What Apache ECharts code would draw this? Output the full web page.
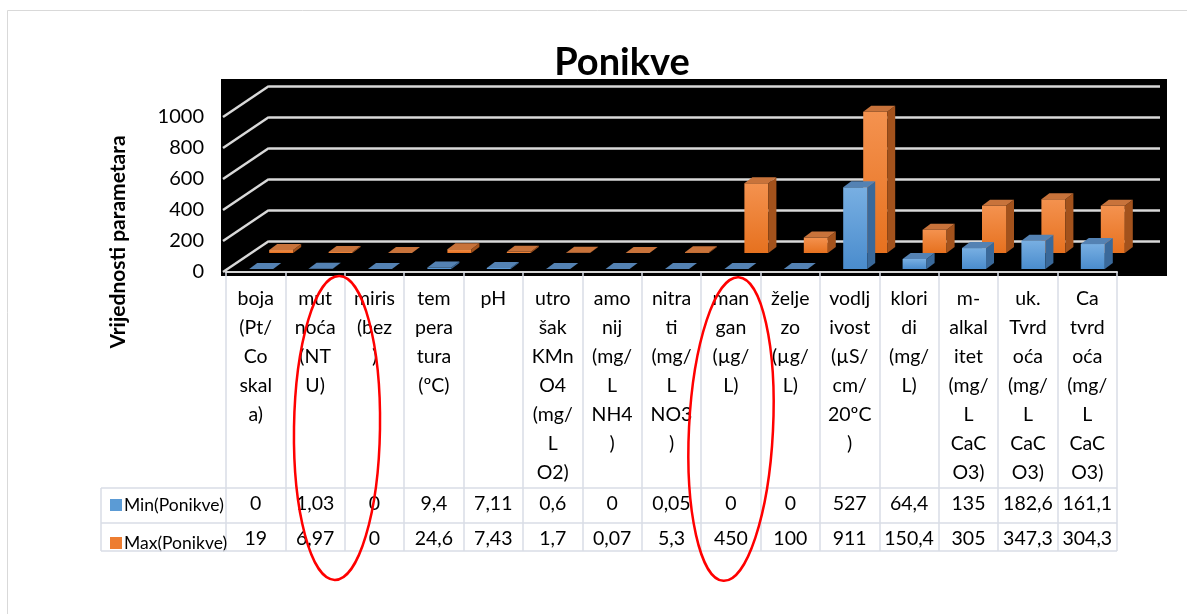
<!DOCTYPE html>
<html>
<head>
<meta charset="utf-8">
<script src="https://cdn.jsdelivr.net/npm/echarts@6/dist/echarts.min.js"></script>
<style>
html,body{margin:0;padding:0;background:#fff;}
#chart{width:1187px;height:614px;}
</style>
</head>
<body>
<div id="chart"></div>
<script>
// ---- data ----
const chartTitle = 'Ponikve';
const yAxisTitle = 'Vrijednosti parametara';
const categories = [
  'boja\n(Pt/\nCo\nskal\na)',
  'mut\nnoća\n(NT\nU)',
  'miris\n(bez\n)',
  'tem\npera\ntura\n(ºC)',
  'pH',
  'utro\nšak\nKMn\nO4\n(mg/\nL\nO2)',
  'amo\nnij\n(mg/\nL\nNH4\n)',
  'nitra\nti\n(mg/\nL\nNO3\n)',
  'man\ngan\n(µg/\nL)',
  'želje\nzo\n(µg/\nL)',
  'vodlj\nivost\n(µS/\ncm/\n20ºC\n)',
  'klori\ndi\n(mg/\nL)',
  'm-\nalkal\nitet\n(mg/\nL\nCaC\nO3)',
  'uk.\nTvrd\noća\n(mg/\nL\nCaC\nO3)',
  'Ca\ntvrd\noća\n(mg/\nL\nCaC\nO3)'
];
const seriesNames = ['Min(Ponikve)', 'Max(Ponikve)'];
const minValues = [0, 1.03, 0, 9.4, 7.11, 0.6, 0, 0.05, 0, 0, 527, 64.4, 135, 182.6, 161.1];
const maxValues = [19, 6.97, 0, 24.6, 7.43, 1.7, 0.07, 5.3, 450, 100, 911, 150.4, 305, 347.3, 304.3];
const yMin = 0, yMax = 1000, yStep = 200;
const yTicks = [0, 200, 400, 600, 800, 1000];

// ---- layout / style ----
const FONT = 'Lato';
const FRONT = {left: 226, right: 70, top: 117, bottom: 342};
const DEPTH = {dx: 43, dy: 31};
const BACK = {left: FRONT.left + DEPTH.dx, right: FRONT.right - DEPTH.dx, top: FRONT.top - DEPTH.dy, bottom: FRONT.bottom + DEPTH.dy};
const BAR_W = 24, SIDE_DX = 8, SIDE_DY = 6;
const fmt = v => String(v).replace('.', ',');

const styles = [
  {off: {dx: 5.5, dy: 3}, light: '#78afe2', dark: '#4a8ccd', side: '#3a699a', top: '#5482b3', legend: '#5b9bd5'},
  {off: {dx: 25.5, dy: 19}, light: '#f4924f', dark: '#e6711f', side: '#a3521c', top: '#c8733b', legend: '#ed7d31'}
];

function barRenderer(st) {
  return function (params, api) {
    const i = api.value(0), v = api.value(1);
    const base = api.coord([i, 0]);
    const top = api.coord([i, v]);
    const cx = base[0] + st.off.dx;
    const yb = base[1] - st.off.dy;
    const yt = top[1] - st.off.dy;
    const x0 = cx - BAR_W / 2, x1 = cx + BAR_W / 2;
    return {
      type: 'group',
      children: [
        {type: 'rect', shape: {x: x0, y: yt, width: BAR_W, height: Math.max(yb - yt, 0)},
         style: {fill: {type: 'linear', x: 0, y: 0, x2: 0, y2: 1, colorStops: [{offset: 0, color: st.light}, {offset: 1, color: st.dark}]}}},
        {type: 'polygon', shape: {points: [[x1, yb], [x1, yt], [x1 + SIDE_DX, yt - SIDE_DY], [x1 + SIDE_DX, yb - SIDE_DY]]},
         style: {fill: st.side}},
        {type: 'polygon', shape: {points: [[x0, yt], [x1, yt], [x1 + SIDE_DX, yt - SIDE_DY], [x0 + SIDE_DX, yt - SIDE_DY]]},
         style: {fill: st.top}}
      ]
    };
  };
}

function wallRenderer(params, api) {
  const v = api.value(1);
  const p = api.coord([0, v]);
  const half = api.size([1, 0])[0] / 2;
  const x0 = p[0] - half - 3;
  return {
    type: 'line',
    shape: {x1: x0, y1: p[1], x2: x0 + DEPTH.dx + 3, y2: p[1] - DEPTH.dy},
    style: {stroke: '#d9d9d9', lineWidth: 2.5}
  };
}

const chart = echarts.init(document.getElementById('chart'), null, {renderer: 'canvas'});
const option = {
  animation: false,
  backgroundColor: '#fff',
  title: {
    text: chartTitle, left: 617, top: 39, textAlign: 'center',
    textStyle: {fontFamily: FONT, fontSize: 38, fontWeight: 'bold', color: '#000'}
  },
  legend: {
    data: seriesNames, orient: 'vertical', left: 105, top: 491, itemWidth: 12, itemHeight: 12,
    itemGap: 20, icon: 'rect', selectedMode: false,
    textStyle: {fontFamily: FONT, fontSize: 17.5, color: '#000', padding: [0, 0, 0, -3]}
  },
  grid: [
    {left: FRONT.left, right: FRONT.right, top: FRONT.top, bottom: FRONT.bottom},
    {left: BACK.left, right: BACK.right, top: BACK.top, bottom: BACK.bottom}
  ],
  xAxis: [
    {gridIndex: 0, type: 'category', data: categories, boundaryGap: true,
     axisLine: {show: true, lineStyle: {color: '#d6d6d6', width: 2}},
     axisTick: {show: true, interval: 0, length: 279, lineStyle: {color: '#d9dde6', width: 1.5}},
     axisLabel: {interval: 0, margin: 12, fontFamily: FONT, fontSize: 19.5, lineHeight: 29, color: '#000', verticalAlign: 'top'}},
    {gridIndex: 0, type: 'category', position: 'bottom', offset: 221, data: minValues.map(fmt),
     axisLine: {show: false}, axisTick: {show: false},
     axisLabel: {interval: 0, margin: 0, fontFamily: FONT, fontSize: 19.5, lineHeight: 22, color: '#000', verticalAlign: 'top'}},
    {gridIndex: 0, type: 'category', position: 'bottom', offset: 256, data: maxValues.map(fmt),
     axisLine: {show: false}, axisTick: {show: false},
     axisLabel: {interval: 0, margin: 0, fontFamily: FONT, fontSize: 19.5, lineHeight: 22, color: '#000', verticalAlign: 'top'}},
    {gridIndex: 1, type: 'category', data: categories, show: false}
  ],
  yAxis: [
    {gridIndex: 0, type: 'value', min: yMin, max: yMax, interval: yStep,
     axisLine: {show: false}, axisTick: {show: false}, splitLine: {show: false},
     axisLabel: {fontFamily: FONT, fontSize: 20, color: '#000', margin: 22, formatter: v => String(v)}},
    {gridIndex: 1, type: 'value', min: yMin, max: yMax, interval: yStep,
     axisLine: {show: false}, axisTick: {show: false}, axisLabel: {show: false},
     splitLine: {show: true, lineStyle: {color: '#d9d9d9', width: 2.5}}}
  ],
  series: [
    {name: 'wall', type: 'custom', xAxisIndex: 0, yAxisIndex: 0, z: 1, silent: true,
     renderItem: wallRenderer, data: yTicks.map(v => [0, v])},
    {name: seriesNames[0], type: 'custom', xAxisIndex: 0, yAxisIndex: 0, z: 4,
     itemStyle: {color: styles[0].legend},
     renderItem: barRenderer(styles[0]), data: minValues.map((v, i) => [i, v])},
    {name: seriesNames[1], type: 'custom', xAxisIndex: 0, yAxisIndex: 0, z: 3,
     itemStyle: {color: styles[1].legend},
     renderItem: barRenderer(styles[1]), data: maxValues.map((v, i) => [i, v])}
  ],
  graphic: [
    {type: 'rect', z: -10, shape: {x: 7.5, y: 10.5, width: 1300, height: 700},
     style: {fill: '#fff', stroke: '#d9d9d9', lineWidth: 1}},
    {type: 'rect', z: -9, shape: {x: 221, y: 79, width: 946, height: 197}, style: {fill: '#000'}},
    {type: 'line', z: 5, shape: {x1: 101, y1: 488, x2: 1117, y2: 488}, style: {stroke: '#d9dde6', lineWidth: 1.5}},
    {type: 'line', z: 5, shape: {x1: 101, y1: 523, x2: 1117, y2: 523}, style: {stroke: '#d9dde6', lineWidth: 1.5}},
    {type: 'line', z: 5, shape: {x1: 101, y1: 551, x2: 1117, y2: 551}, style: {stroke: '#d9dde6', lineWidth: 1.5}},
    {type: 'line', z: 5, shape: {x1: 101, y1: 488, x2: 101, y2: 551}, style: {stroke: '#d9dde6', lineWidth: 1.5}},
    {type: 'text', z: 5, x: 118, y: 242, rotation: Math.PI / 2,
     style: {text: yAxisTitle, fontFamily: FONT, fontSize: 21, fontWeight: 'bold', fill: '#000', textAlign: 'center', textVerticalAlign: 'middle'}},
    {type: 'ellipse', z: 50, x: 337, y: 428, rotation: -0.015,
     shape: {cx: 0, cy: 0, rx: 43, ry: 152}, style: {fill: null, stroke: '#ff0000', lineWidth: 2.5}},
    {type: 'ellipse', z: 50, x: 731, y: 429, rotation: -0.05,
     shape: {cx: 0, cy: 0, rx: 42, ry: 152}, style: {fill: null, stroke: '#ff0000', lineWidth: 2.5}}
  ]
};
chart.setOption(option);
</script>
</body>
</html>
